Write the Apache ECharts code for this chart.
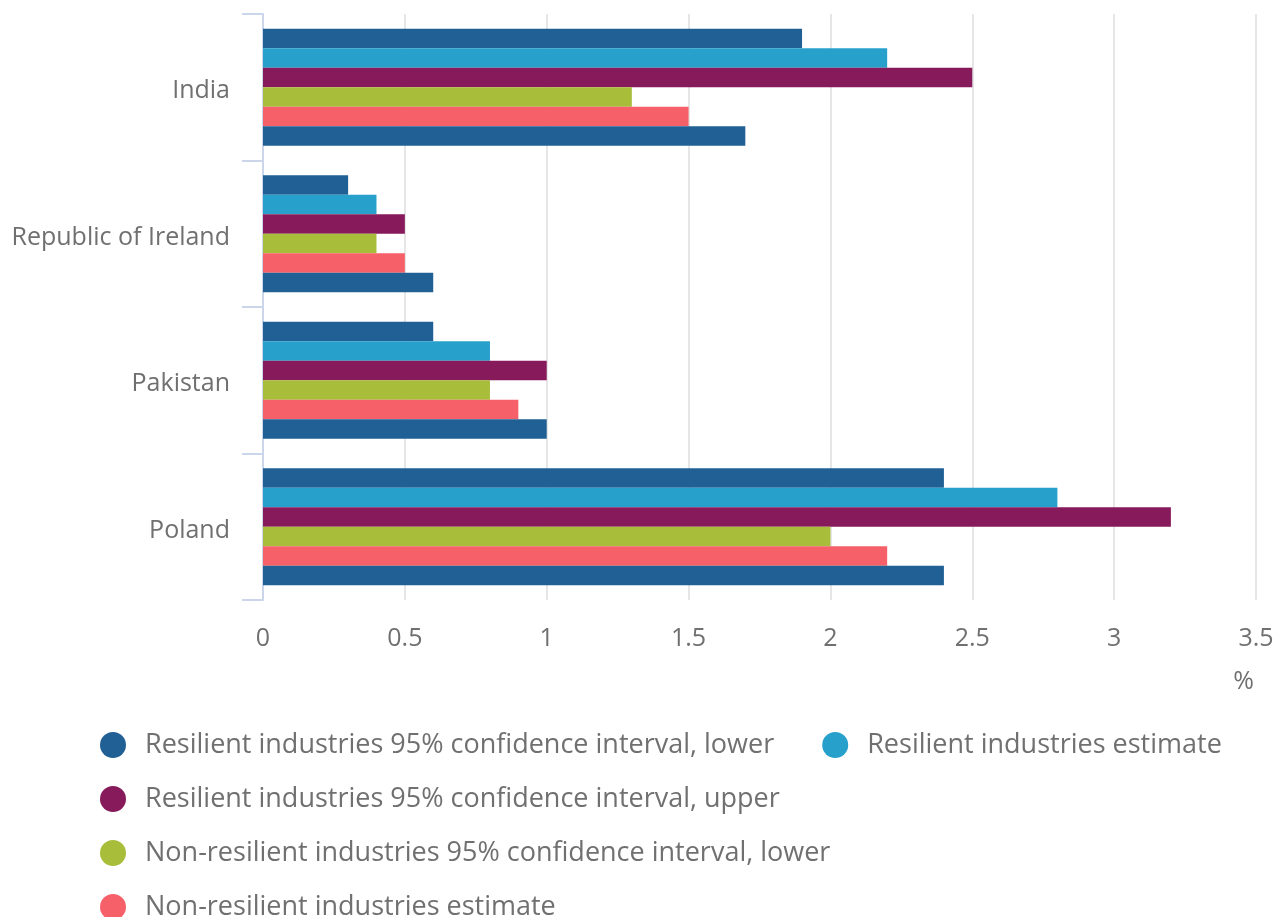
<!DOCTYPE html>
<html>
<head>
<meta charset="utf-8">
<script src="https://cdn.jsdelivr.net/npm/echarts@6/dist/echarts.min.js"></script>
<style>
html,body{margin:0;padding:0;background:#fff;}
#chart{width:1282px;height:917px;}
</style>
</head>
<body>
<div id="chart"></div>
<script>
var categories = ['India', 'Republic of Ireland', 'Pakistan', 'Poland'];
var seriesNames = [
  'Resilient industries 95% confidence interval, lower',
  'Resilient industries estimate',
  'Resilient industries 95% confidence interval, upper',
  'Non-resilient industries 95% confidence interval, lower',
  'Non-resilient industries estimate',
  'Non-resilient industries 95% confidence interval, upper'
];
var resLower = [1.9, 0.3, 0.6, 2.4];
var resEstimate = [2.2, 0.4, 0.8, 2.8];
var resUpper = [2.5, 0.5, 1.0, 3.2];
var nonResLower = [1.3, 0.4, 0.8, 2.0];
var nonResEstimate = [1.5, 0.5, 0.9, 2.2];
var nonResUpper = [1.7, 0.6, 1.0, 2.4];
var colors = ['#206095', '#27a0cc', '#871a5b', '#a8bd3a', '#f66068', '#206095'];

var allValues = [resLower, resEstimate, resUpper, nonResLower, nonResEstimate, nonResUpper];
var font = "'Open Sans', 'Noto Sans', sans-serif";
var chart = echarts.init(document.getElementById('chart'));
chart.setOption({
  animation: false,
  color: colors,
  grid: {left: 263, right: 26, top: 14, bottom: 317, containLabel: false},
  xAxis: {
    type: 'value', min: 0, max: 3.5, interval: 0.5,
    axisLine: {show: false}, axisTick: {show: false},
    axisLabel: {color: '#707070', fontSize: 25, fontFamily: font, margin: 26},
    splitLine: {show: true, lineStyle: {color: '#e6e6e6', width: 2}}
  },
  yAxis: {
    type: 'category', data: categories, inverse: true,
    axisLine: {show: true, lineStyle: {color: '#ccd6eb', width: 2}},
    axisTick: {show: true, length: 21, lineStyle: {color: '#ccd6eb', width: 2}},
    axisLabel: {
      margin: 33,
      formatter: function (v) { return '{a|' + v + '}'; },
      rich: {a: {color: '#707070', fontSize: 25, fontFamily: font, padding: [8, 0, 0, 0]}}
    },
    splitLine: {show: false}
  },
  legend: {
    left: 95, top: 725, width: 1170,
    icon: 'circle', itemWidth: 26, itemHeight: 26, itemGap: 24,
    textStyle: {color: '#707070', fontSize: 27, fontFamily: font, lineHeight: 30, padding: [0, 24, 0, 14]},
    data: seriesNames
  },
  graphic: [{
    type: 'text', right: 28, top: 669,
    style: {text: '%', fill: '#707070', font: '25px ' + font}
  }],
  series: allValues.map(function (vals, i) {
    return {
      name: seriesNames[i], type: 'bar', data: vals,
      barGap: '0%', barCategoryGap: '20%',
      itemStyle: {color: colors[i]}
    };
  })
});
</script>
</body>
</html>
